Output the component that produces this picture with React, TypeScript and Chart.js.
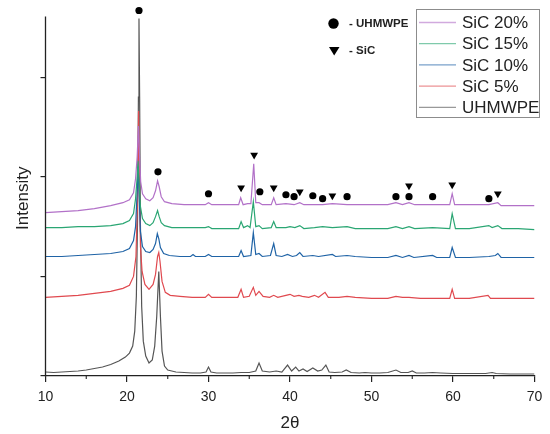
import { useEffect, useRef } from "react";
import { Chart, registerables, type ChartConfiguration, type Plugin } from "chart.js";

Chart.register(...registerables);

type Pt = [number, number];

// axis values
const X_MIN = 10;
const X_MAX = 70;
const X_STEP = 10;
const X_MINOR_TICKS = [15, 25, 35, 45, 55, 65];
const Y_MIN = 0;
const Y_MAX = 3.73;
const Y_AXIS_TOP = 3.61;

// diffractograms, [2θ, intensity (a.u., offset stacked)]
const SIC_20: Pt[] = [
  [10, 1.64], [12, 1.65], [14, 1.66], [16, 1.68], [18, 1.71], [19.5, 1.74], [20.3, 1.77], [20.8, 1.84],
  [21.05, 1.98], [21.25, 2.2], [21.4, 2.51], [21.52, 2.25], [21.68, 1.95], [21.9, 1.83], [22.3, 1.78],
  [22.8, 1.76], [23.2, 1.79], [23.5, 1.86], [23.75, 1.96], [23.95, 1.9], [24.2, 1.8], [24.6, 1.75],
  [25.5, 1.73], [27, 1.72], [29.6, 1.72], [30, 1.74], [30.4, 1.72], [32, 1.72], [33.7, 1.72],
  [33.95, 1.79], [34.25, 1.72], [34.8, 1.73], [35.2, 1.73], [35.55, 2.13], [35.8, 1.74], [36.2, 1.74],
  [36.6, 1.72], [37.7, 1.72], [38, 1.79], [38.3, 1.72], [39.5, 1.73], [40.5, 1.72], [41.2, 1.74],
  [41.7, 1.72], [43, 1.72], [44, 1.72], [45.2, 1.73], [47, 1.72], [48, 1.72], [50, 1.72], [52, 1.72],
  [53, 1.74], [53.8, 1.72], [54.6, 1.74], [55.3, 1.72], [57.5, 1.72], [59.6, 1.72], [59.9, 1.83],
  [60.2, 1.72], [62, 1.72], [64.4, 1.72], [65.5, 1.74], [65.9, 1.71], [68, 1.71], [70, 1.71],
];

const SIC_15: Pt[] = [
  [10, 1.49], [12, 1.49], [14, 1.5], [16, 1.5], [18, 1.51], [19.5, 1.53], [20.3, 1.56], [20.8, 1.63],
  [21.05, 1.78], [21.25, 2.0], [21.35, 2.16], [21.48, 1.95], [21.65, 1.7], [21.9, 1.58], [22.3, 1.53],
  [22.8, 1.51], [23.2, 1.54], [23.5, 1.6], [23.75, 1.66], [23.95, 1.6], [24.2, 1.54], [24.6, 1.51],
  [25.5, 1.49], [27, 1.49], [29.6, 1.49], [30, 1.5], [30.4, 1.48], [32, 1.48], [33.7, 1.48], [34, 1.55],
  [34.3, 1.49], [34.8, 1.51], [35.1, 1.49], [35.5, 1.75], [35.8, 1.5], [36.2, 1.51], [36.6, 1.48],
  [37.7, 1.49], [38, 1.55], [38.3, 1.49], [39.5, 1.49], [40, 1.5], [40.6, 1.49], [41.2, 1.51],
  [41.7, 1.48], [43, 1.49], [44, 1.5], [45.2, 1.49], [47, 1.5], [48, 1.48], [50, 1.48], [52, 1.48],
  [53, 1.5], [53.8, 1.48], [54.6, 1.5], [55.3, 1.48], [57.5, 1.49], [59.6, 1.48], [59.9, 1.63],
  [60.3, 1.48], [62, 1.48], [64.4, 1.51], [64.8, 1.49], [65.5, 1.51], [66, 1.48], [68, 1.48], [70, 1.47],
];

const SIC_10: Pt[] = [
  [10, 1.2], [12, 1.2], [14, 1.21], [16, 1.22], [18, 1.23], [19.5, 1.25], [20.3, 1.28], [20.8, 1.36],
  [21.05, 1.5], [21.25, 1.85], [21.38, 2.1], [21.5, 1.8], [21.65, 1.45], [21.9, 1.3], [22.3, 1.25],
  [22.8, 1.24], [23.2, 1.27], [23.5, 1.33], [23.72, 1.43], [23.9, 1.38], [24.1, 1.29], [24.5, 1.23],
  [25.2, 1.21], [26.5, 1.2], [27.8, 1.2], [28.1, 1.22], [28.4, 1.2], [29.6, 1.2], [30, 1.22], [30.4, 1.2],
  [32, 1.2], [33.7, 1.2], [34, 1.26], [34.3, 1.2], [35.2, 1.21], [35.5, 1.44], [35.8, 1.22], [36.2, 1.23],
  [36.6, 1.2], [37.6, 1.21], [38, 1.33], [38.3, 1.21], [39, 1.2], [39.7, 1.22], [40.3, 1.2], [40.8, 1.21],
  [41.2, 1.24], [41.6, 1.2], [42.8, 1.21], [43.5, 1.2], [45.2, 1.22], [45.6, 1.2], [47, 1.21], [48, 1.2],
  [50, 1.19], [52, 1.19], [53, 1.21], [53.8, 1.19], [54.6, 1.21], [55.2, 1.19], [57.5, 1.21], [58, 1.19],
  [59.6, 1.19], [59.9, 1.29], [60.3, 1.19], [62, 1.19], [64.4, 1.2], [65.2, 1.21], [65.5, 1.23],
  [65.9, 1.19], [68, 1.19], [70, 1.19],
];

const SIC_5: Pt[] = [
  [10, 0.79], [12, 0.8], [14, 0.81], [16, 0.83], [18, 0.85], [19.5, 0.88], [20.3, 0.91], [20.8, 1.0],
  [21.1, 1.2], [21.3, 1.8], [21.42, 2.66], [21.52, 1.9], [21.65, 1.3], [21.85, 1.05], [22.2, 0.92],
  [22.7, 0.87], [23.2, 0.92], [23.5, 1.02], [23.75, 1.2], [23.9, 1.24], [24.05, 1.15], [24.3, 0.95],
  [24.7, 0.84], [25.3, 0.81], [26.5, 0.8], [28, 0.79], [29.6, 0.79], [30, 0.82], [30.4, 0.79], [32, 0.79],
  [33.6, 0.79], [34, 0.87], [34.3, 0.79], [35, 0.8], [35.5, 0.89], [35.8, 0.81], [36.2, 0.85], [36.7, 0.8],
  [37.5, 0.79], [38, 0.81], [38.5, 0.79], [39.5, 0.81], [40, 0.82], [40.5, 0.8], [41.1, 0.81], [41.5, 0.8],
  [42.3, 0.79], [43, 0.81], [43.5, 0.79], [44.3, 0.84], [44.7, 0.79], [46, 0.79], [47, 0.8], [48, 0.79],
  [50, 0.78], [52, 0.78], [53, 0.8], [53.8, 0.79], [54.6, 0.79], [56, 0.78], [58, 0.78], [59.6, 0.78],
  [59.9, 0.87], [60.2, 0.78], [62, 0.78], [64.3, 0.81], [64.6, 0.78], [66, 0.78], [68, 0.78], [70, 0.78],
];

const UHMWPE: Pt[] = [
  [10, 0.04], [11, 0.035], [12, 0.04], [13, 0.045], [14, 0.05], [15, 0.06], [16, 0.075], [17, 0.09],
  [18, 0.115], [19, 0.15], [19.8, 0.19], [20.3, 0.23], [20.7, 0.3], [20.95, 0.45], [21.15, 0.8],
  [21.3, 1.6], [21.4, 2.8], [21.47, 3.59], [21.55, 2.8], [21.65, 1.5], [21.8, 0.7], [22.0, 0.35],
  [22.3, 0.2], [22.7, 0.13], [23.1, 0.16], [23.4, 0.3], [23.65, 0.6], [23.9, 1.05], [24.1, 0.6],
  [24.3, 0.25], [24.6, 0.1], [25, 0.06], [26, 0.04], [27, 0.035], [28, 0.03], [29, 0.03], [29.7, 0.04],
  [30.0, 0.09], [30.3, 0.04], [31, 0.03], [32, 0.03], [33, 0.03], [34, 0.035], [35, 0.035], [35.8, 0.05],
  [36.2, 0.13], [36.6, 0.05], [37.5, 0.04], [38.3, 0.05], [39, 0.04], [39.7, 0.11], [40.2, 0.05],
  [40.7, 0.09], [41.1, 0.05], [41.6, 0.07], [42.1, 0.045], [42.8, 0.08], [43.4, 0.05], [43.9, 0.06],
  [44.4, 0.11], [44.8, 0.04], [45.5, 0.035], [46.4, 0.04], [46.9, 0.06], [47.5, 0.035], [48.5, 0.03],
  [49.2, 0.035], [50, 0.03], [51, 0.03], [52, 0.035], [53, 0.06], [53.6, 0.035], [54.5, 0.035],
  [55, 0.05], [55.5, 0.03], [56.5, 0.03], [57.5, 0.035], [58.5, 0.03], [60, 0.025], [62, 0.025],
  [64, 0.025], [64.8, 0.035], [65.3, 0.025], [67, 0.02], [70, 0.02],
];

// peak assignment symbols
const UHMWPE_MARKS: Pt[] = [
  [21.47, 3.67], [23.8, 2.05], [30, 1.83], [36.3, 1.85], [39.5, 1.82], [40.5, 1.8], [42.8, 1.81],
  [44.0, 1.78], [47.0, 1.8], [53.0, 1.8], [54.6, 1.8], [57.5, 1.8], [64.4, 1.78],
];
const SIC_MARKS: Pt[] = [
  [34, 1.89], [35.6, 2.22], [38, 1.89], [41.2, 1.85], [45.2, 1.81], [54.6, 1.91], [59.9, 1.92], [65.5, 1.83],
];

const SERIES = [
  { label: "SiC 20%", data: SIC_20, color: "#b271c8" },
  { label: "SiC 15%", data: SIC_15, color: "#2aa673" },
  { label: "SiC 10%", data: SIC_10, color: "#1f63a6" },
  { label: "SiC 5%", data: SIC_5, color: "#e0494f" },
  { label: "UHMWPE", data: UHMWPE, color: "#555555" },
];

const FONT = "'Liberation Sans', Arial, sans-serif";
const INK = "#222222";

const toXY = (pts: Pt[]) => pts.map(([x, y]) => ({ x, y }));

// boxed legend + symbol key, axis line and minor ticks
const decorPlugin: Plugin<"line"> = {
  id: "decor",
  afterDraw(chart) {
    const { ctx } = chart;
    const xs = chart.scales.x;
    const ys = chart.scales.y;
    ctx.save();

    // y axis line stops below the top marker
    ctx.strokeStyle = INK;
    ctx.lineWidth = 1.3;
    ctx.beginPath();
    ctx.moveTo(xs.left, ys.getPixelForValue(Y_MIN) + 0.5);
    ctx.lineTo(xs.left, ys.getPixelForValue(Y_AXIS_TOP));
    ctx.stroke();

    // minor x ticks
    ctx.lineWidth = 1.1;
    X_MINOR_TICKS.forEach((v) => {
      const px = xs.getPixelForValue(v);
      ctx.beginPath();
      ctx.moveTo(px, xs.top);
      ctx.lineTo(px, xs.top + 3);
      ctx.stroke();
    });

    // y title
    ctx.fillStyle = INK;
    ctx.font = `17px ${FONT}`;
    ctx.textAlign = "center";
    ctx.textBaseline = "middle";
    ctx.save();
    ctx.translate(23, (ys.getPixelForValue(Y_MIN) + ys.getPixelForValue(Y_AXIS_TOP)) / 2 + 2);
    ctx.rotate(-Math.PI / 2);
    ctx.fillText("Intensity", 0, 0);
    ctx.restore();

    // symbol key
    ctx.fillStyle = "#000";
    ctx.beginPath();
    ctx.arc(333.5, 23.5, 5.2, 0, Math.PI * 2);
    ctx.fill();
    ctx.beginPath();
    ctx.moveTo(329, 47);
    ctx.lineTo(339.5, 47);
    ctx.lineTo(334.2, 55.5);
    ctx.closePath();
    ctx.fill();
    ctx.font = `bold 11.5px ${FONT}`;
    ctx.textAlign = "left";
    ctx.fillStyle = INK;
    ctx.fillText("- UHMWPE", 349, 24);
    ctx.fillText("- SiC", 349, 51);

    // boxed legend
    ctx.strokeStyle = "#8c8c8c";
    ctx.lineWidth = 1;
    ctx.strokeRect(416.5, 9.5, 123, 108);
    ctx.font = `17px ${FONT}`;
    SERIES.forEach((s, i) => {
      const y = 22.5 + i * 21.2;
      ctx.globalAlpha = 0.6;
      ctx.strokeStyle = s.color;
      ctx.lineWidth = 1.3;
      ctx.beginPath();
      ctx.moveTo(419, y);
      ctx.lineTo(456, y);
      ctx.stroke();
      ctx.globalAlpha = 1;
      ctx.fillStyle = INK;
      ctx.fillText(s.label, 462, y + 1);
    });

    ctx.restore();
  },
};

export default function App() {
  const canvasRef = useRef<HTMLCanvasElement>(null);

  useEffect(() => {
    document.body.style.margin = "0";
    const canvas = canvasRef.current;
    if (!canvas) return;

    Chart.defaults.font.family = FONT;
    Chart.defaults.color = INK;

    const config: ChartConfiguration<"line"> = {
      type: "line",
      data: {
        datasets: [
          {
            type: "scatter",
            label: "UHMWPE peaks",
            data: toXY(UHMWPE_MARKS),
            pointStyle: "circle",
            pointRadius: 3.6,
            pointBackgroundColor: "#000",
            pointBorderWidth: 0,
            clip: false,
            order: -1,
          } as any,
          {
            type: "scatter",
            label: "SiC peaks",
            data: toXY(SIC_MARKS),
            pointStyle: "triangle",
            pointRotation: 180,
            pointRadius: 4.5,
            pointBackgroundColor: "#000",
            pointBorderWidth: 0,
            clip: false,
            order: -1,
          } as any,
          ...SERIES.map((s) => ({
            label: s.label,
            data: toXY(s.data),
            borderColor: s.color,
            borderWidth: 1.2,
            pointRadius: 0,
            tension: 0,
            fill: false,
          })),
        ],
      },
      options: {
        responsive: true,
        maintainAspectRatio: false,
        animation: false,
        events: [],
        layout: { padding: { top: 3, right: 15.5, bottom: 0, left: 0 } },
        plugins: {
          legend: { display: false },
          tooltip: { enabled: false },
        },
        scales: {
          x: {
            type: "linear",
            min: X_MIN,
            max: X_MAX,
            ticks: { stepSize: X_STEP, font: { size: 14 }, color: INK, padding: 7, maxRotation: 0 },
            grid: { drawOnChartArea: false, drawTicks: true, tickLength: 6, color: INK, lineWidth: 1.2 },
            border: { display: true, color: INK, width: 1.3 },
            title: { display: true, text: "2θ", font: { size: 17 }, color: INK, padding: { top: 0, bottom: 0 } },
            afterFit: (scale) => {
              scale.height = 58;
            },
          },
          y: {
            type: "linear",
            min: Y_MIN,
            max: Y_MAX,
            ticks: { stepSize: 1, display: false, includeBounds: false },
            grid: { drawOnChartArea: false, drawTicks: true, tickLength: 5, color: INK, lineWidth: 1.2 },
            border: { display: false },
            afterFit: (scale) => {
              scale.width = 45.5;
            },
          },
        },
      },
      plugins: [decorPlugin],
    };

    const chart = new Chart(canvas, config);
    return () => chart.destroy();
  }, []);

  return (
    <div style={{ position: "relative", width: 550, height: 434 }}>
      <canvas ref={canvasRef} />
    </div>
  );
}
